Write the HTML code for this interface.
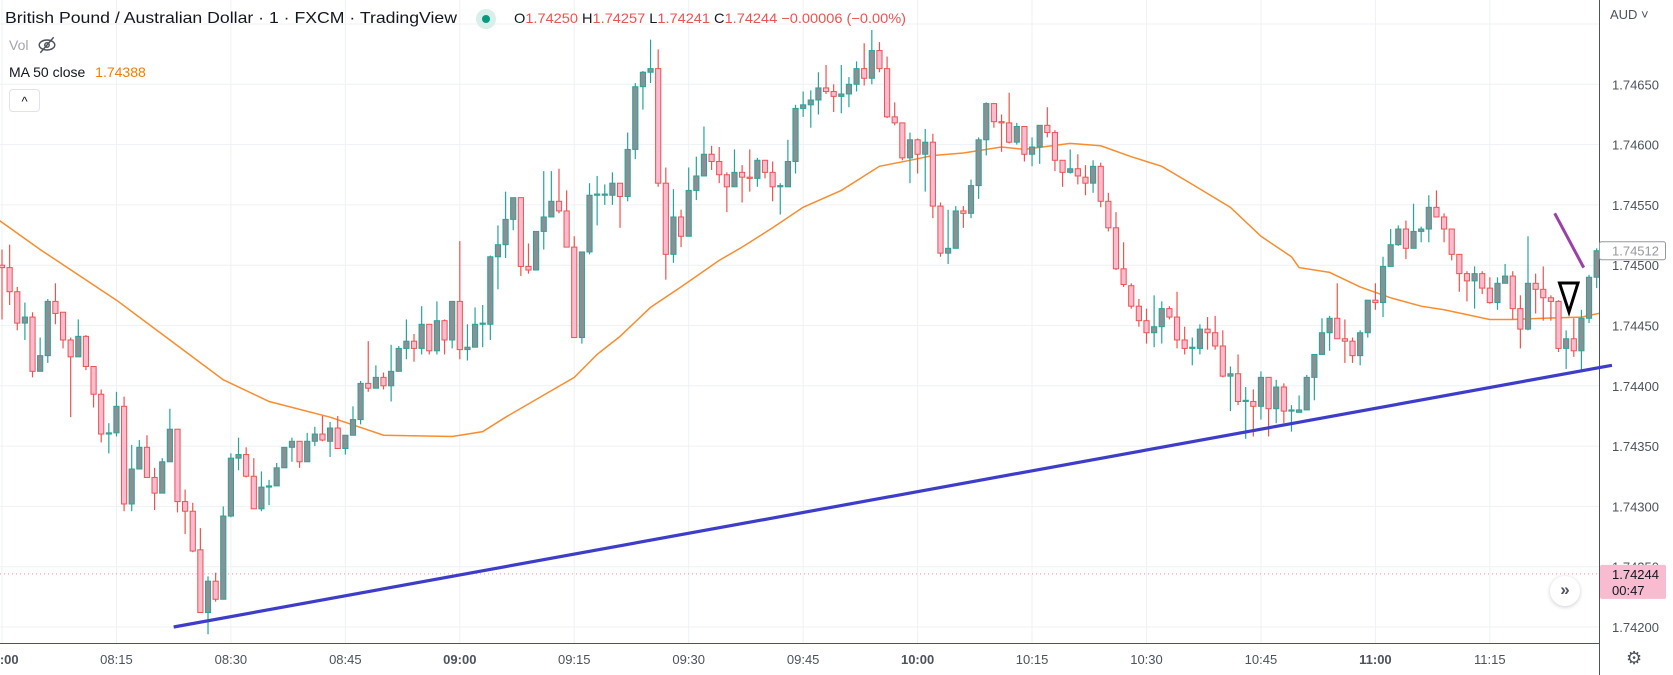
<!DOCTYPE html>
<html><head><meta charset="utf-8">
<style>
html,body{margin:0;padding:0;background:#fff;}
body{width:1673px;height:675px;overflow:hidden;position:relative;font-family:"Liberation Sans",sans-serif;}
svg{position:absolute;left:0;top:0;}
</style></head>
<body>
<svg id="chart" width="1673" height="675" viewBox="0 0 1673 675" xmlns="http://www.w3.org/2000/svg">
  <defs>
    <clipPath id="plotClip"><rect x="0" y="0" width="1599" height="643"/></clipPath>
  </defs>
  <g id="grid"></g>
  <g id="plot" clip-path="url(#plotClip)"></g>
  <g id="axes"></g>
  <g id="overlay"></g>
</svg>
<script>
// ---- data ----
const timeLabels = ["08:00","08:15","08:30","08:45","09:00","09:15","09:30","09:45","10:00","10:15","10:30","10:45","11:00","11:15"];
const priceTicks = [1.742,1.7425,1.743,1.7435,1.744,1.7445,1.745,1.7455,1.746,1.7465,1.747];
const opens = [1.74500,1.74498,1.74478,1.74452,1.74457,1.74412,1.74425,1.74470,1.74461,1.74438,
1.74424,1.74441,1.74416,1.74393,1.74360,1.74361,1.74383,1.74302,1.74331,1.74349,
1.74324,1.74311,1.74337,1.74364,1.74304,1.74296,1.74264,1.74212,1.74238,1.74223,
1.74292,1.74340,1.74343,1.74325,1.74298,1.74316,1.74317,1.74332,1.74349,1.74354,
1.74337,1.74354,1.74360,1.74354,1.74365,1.74348,1.74359,1.74372,1.74402,1.74398,
1.74407,1.74400,1.74412,1.74431,1.74437,1.74431,1.74451,1.74429,1.74454,1.74438,
1.74470,1.74430,1.74432,1.74451,1.74451,1.74507,1.74517,1.74538,1.74556,1.74499,
1.74496,1.74528,1.74540,1.74553,1.74545,1.74515,1.74440,1.74511,1.74558,1.74558,
1.74558,1.74568,1.74557,1.74596,1.74648,1.74660,1.74663,1.74568,1.74509,1.74540,
1.74524,1.74562,1.74574,1.74592,1.74586,1.74575,1.74565,1.74577,1.74573,1.74572,
1.74587,1.74577,1.74565,1.74565,1.74586,1.74630,1.74633,1.74637,1.74647,1.74644,
1.74640,1.74642,1.74650,1.74663,1.74655,1.74678,1.74663,1.74623,1.74618,1.74589,
1.74604,1.74592,1.74602,1.74549,1.74510,1.74514,1.74545,1.74543,1.74566,1.74604,
1.74634,1.74619,1.74618,1.74602,1.74615,1.74592,1.74598,1.74616,1.74610,1.74587,
1.74577,1.74580,1.74573,1.74568,1.74582,1.74553,1.74531,1.74497,1.74483,1.74466,
1.74454,1.74444,1.74449,1.74464,1.74457,1.74438,1.74431,1.74431,1.74447,1.74444,
1.74433,1.74408,1.74410,1.74387,1.74387,1.74383,1.74407,1.74381,1.74399,1.74379,
1.74378,1.74380,1.74407,1.74426,1.74444,1.74456,1.74439,1.74437,1.74425,1.74444,
1.74471,1.74469,1.74499,1.74517,1.74530,1.74514,1.74528,1.74530,1.74548,1.74540,
1.74530,1.74509,1.74493,1.74487,1.74493,1.74481,1.74469,1.74485,1.74491,1.74464,
1.74447,1.74485,1.74480,1.74473,1.74470,1.74431,1.74439,1.74429,1.74456,1.74490];
const highs = [1.74513,1.74517,1.74482,1.74469,1.74461,1.74440,1.74472,1.74485,1.74461,1.74440,
1.74455,1.74442,1.74416,1.74397,1.74369,1.74395,1.74391,1.74351,1.74355,1.74359,
1.74332,1.74340,1.74381,1.74364,1.74314,1.74303,1.74282,1.74242,1.74245,1.74300,
1.74344,1.74357,1.74349,1.74340,1.74329,1.74322,1.74336,1.74349,1.74357,1.74354,
1.74361,1.74366,1.74375,1.74370,1.74375,1.74359,1.74383,1.74404,1.74437,1.74417,
1.74411,1.74434,1.74433,1.74455,1.74443,1.74466,1.74451,1.74470,1.74455,1.74470,
1.74520,1.74451,1.74465,1.74467,1.74508,1.74533,1.74561,1.74556,1.74556,1.74518,
1.74528,1.74578,1.74578,1.74580,1.74562,1.74524,1.74511,1.74568,1.74574,1.74567,
1.74577,1.74568,1.74610,1.74651,1.74661,1.74687,1.74679,1.74581,1.74563,1.74546,
1.74581,1.74590,1.74615,1.74599,1.74598,1.74577,1.74596,1.74583,1.74596,1.74589,
1.74587,1.74586,1.74568,1.74604,1.74633,1.74644,1.74645,1.74660,1.74666,1.74650,
1.74666,1.74656,1.74669,1.74684,1.74695,1.74685,1.74673,1.74635,1.74618,1.74610,
1.74605,1.74613,1.74609,1.74552,1.74546,1.74549,1.74549,1.74571,1.74606,1.74635,
1.74634,1.74625,1.74643,1.74618,1.74615,1.74606,1.74616,1.74631,1.74612,1.74587,
1.74596,1.74592,1.74583,1.74587,1.74585,1.74560,1.74544,1.74519,1.74485,1.74472,
1.74464,1.74475,1.74470,1.74466,1.74478,1.74449,1.74440,1.74451,1.74457,1.74458,
1.74446,1.74416,1.74426,1.74399,1.74397,1.74412,1.74407,1.74405,1.74402,1.74384,
1.74392,1.74409,1.74426,1.74456,1.74458,1.74485,1.74455,1.74440,1.74446,1.74471,
1.74485,1.74507,1.74530,1.74533,1.74537,1.74551,1.74532,1.74558,1.74562,1.74543,
1.74530,1.74509,1.74495,1.74499,1.74495,1.74490,1.74490,1.74501,1.74495,1.74475,
1.74524,1.74493,1.74499,1.74475,1.74471,1.74446,1.74456,1.74463,1.74492,1.74514];
const lows = [1.74455,1.74467,1.74446,1.74438,1.74407,1.74412,1.74419,1.74451,1.74431,1.74374,
1.74424,1.74413,1.74382,1.74353,1.74344,1.74358,1.74296,1.74296,1.74331,1.74324,
1.74297,1.74311,1.74337,1.74295,1.74277,1.74262,1.74212,1.74194,1.74221,1.74223,
1.74291,1.74330,1.74324,1.74298,1.74296,1.74301,1.74317,1.74332,1.74337,1.74332,
1.74337,1.74350,1.74354,1.74341,1.74348,1.74343,1.74359,1.74368,1.74395,1.74398,
1.74397,1.74387,1.74412,1.74422,1.74420,1.74426,1.74426,1.74426,1.74426,1.74431,
1.74422,1.74421,1.74432,1.74432,1.74438,1.74480,1.74506,1.74529,1.74491,1.74493,
1.74496,1.74513,1.74540,1.74543,1.74515,1.74440,1.74435,1.74509,1.74533,1.74550,
1.74550,1.74531,1.74553,1.74588,1.74629,1.74651,1.74565,1.74488,1.74502,1.74515,
1.74524,1.74554,1.74574,1.74579,1.74568,1.74544,1.74565,1.74552,1.74561,1.74565,
1.74572,1.74553,1.74542,1.74565,1.74576,1.74623,1.74614,1.74625,1.74642,1.74627,
1.74626,1.74631,1.74644,1.74649,1.74650,1.74660,1.74622,1.74616,1.74587,1.74568,
1.74576,1.74561,1.74539,1.74507,1.74501,1.74514,1.74531,1.74539,1.74555,1.74591,
1.74614,1.74594,1.74601,1.74600,1.74586,1.74582,1.74584,1.74606,1.74578,1.74565,
1.74576,1.74567,1.74558,1.74560,1.74548,1.74528,1.74496,1.74482,1.74464,1.74449,
1.74435,1.74432,1.74435,1.74455,1.74431,1.74426,1.74417,1.74426,1.74430,1.74430,
1.74407,1.74379,1.74384,1.74356,1.74358,1.74372,1.74358,1.74369,1.74369,1.74362,
1.74378,1.74380,1.74388,1.74426,1.74429,1.74439,1.74419,1.74419,1.74417,1.74440,
1.74463,1.74457,1.74499,1.74516,1.74505,1.74514,1.74519,1.74519,1.74540,1.74519,
1.74504,1.74478,1.74470,1.74464,1.74476,1.74468,1.74463,1.74485,1.74455,1.74431,
1.74446,1.74460,1.74454,1.74454,1.74428,1.74414,1.74424,1.74411,1.74452,1.74481];
const closes = [1.74498,1.74478,1.74452,1.74457,1.74412,1.74425,1.74470,1.74460,1.74438,1.74424,
1.74441,1.74416,1.74393,1.74360,1.74361,1.74383,1.74302,1.74331,1.74349,1.74324,
1.74311,1.74337,1.74364,1.74304,1.74296,1.74263,1.74212,1.74238,1.74223,1.74292,
1.74340,1.74343,1.74325,1.74298,1.74316,1.74317,1.74332,1.74349,1.74354,1.74337,
1.74354,1.74360,1.74355,1.74365,1.74348,1.74359,1.74372,1.74402,1.74398,1.74407,
1.74400,1.74412,1.74431,1.74437,1.74431,1.74451,1.74429,1.74454,1.74438,1.74470,
1.74430,1.74432,1.74451,1.74452,1.74507,1.74517,1.74538,1.74556,1.74499,1.74496,
1.74528,1.74540,1.74553,1.74545,1.74515,1.74440,1.74511,1.74558,1.74559,1.74559,
1.74568,1.74557,1.74596,1.74648,1.74660,1.74663,1.74568,1.74509,1.74540,1.74524,
1.74562,1.74574,1.74592,1.74586,1.74575,1.74565,1.74577,1.74573,1.74572,1.74587,
1.74577,1.74565,1.74566,1.74586,1.74630,1.74633,1.74637,1.74647,1.74644,1.74640,
1.74642,1.74650,1.74663,1.74655,1.74678,1.74663,1.74623,1.74618,1.74589,1.74604,
1.74592,1.74602,1.74549,1.74510,1.74514,1.74545,1.74543,1.74566,1.74604,1.74634,
1.74619,1.74618,1.74602,1.74615,1.74592,1.74598,1.74616,1.74610,1.74587,1.74577,
1.74580,1.74574,1.74568,1.74582,1.74553,1.74531,1.74497,1.74484,1.74466,1.74454,
1.74444,1.74449,1.74464,1.74457,1.74438,1.74431,1.74432,1.74447,1.74444,1.74433,
1.74408,1.74410,1.74387,1.74388,1.74383,1.74407,1.74381,1.74399,1.74379,1.74380,
1.74380,1.74407,1.74426,1.74444,1.74456,1.74439,1.74437,1.74425,1.74444,1.74471,
1.74469,1.74499,1.74517,1.74530,1.74514,1.74528,1.74530,1.74548,1.74540,1.74530,
1.74509,1.74493,1.74487,1.74493,1.74481,1.74469,1.74485,1.74491,1.74464,1.74447,
1.74485,1.74480,1.74473,1.74470,1.74431,1.74439,1.74429,1.74456,1.74490,1.74512];
const maMinutes = [-1,5,15,22,29,35,43,50,59,63,66,72,75,78,81,85,89,94,97,101,105,110,115,119,122,126,131,134,140,144,148,152,156,161,165,169,170,174,178,182,186,189,195,198,202,207,210];
const maValues = [1.74540,1.74513,1.74471,1.74438,1.74405,1.74387,1.74374,1.74359,1.74358,1.74362,1.74374,1.74396,1.74407,1.74426,1.74441,1.74465,1.74482,1.74504,1.74515,1.74531,1.74548,1.74562,1.74582,1.74587,1.74591,1.74593,1.74598,1.74596,1.74601,1.74599,1.74590,1.74582,1.74567,1.74548,1.74524,1.74507,1.74498,1.74494,1.74482,1.74473,1.74466,1.74463,1.74455,1.74455,1.74456,1.74457,1.74461];
const trendMinutes = [22.5, 211];
const trendPrices = [1.74200, 1.74417];
const purpleMinutes = [203.5, 207.3];
const purplePrices = [1.74543, 1.74498];
const lastPrice = 1.74244;
const markPrice = 1.74512;

// ---- axis functions ----
const X0 = 2, PX_PER_MIN = 7.63;
function xOf(m){ return X0 + m*PX_PER_MIN; }
function yOf(p){ return 627 - (p-1.742)/0.0005*60.3; }

const NS = "http://www.w3.org/2000/svg";
function mk(tag, attrs, parent){
  const e = document.createElementNS(NS, tag);
  for (const k in attrs) e.setAttribute(k, attrs[k]);
  parent.appendChild(e); return e;
}
const grid = document.getElementById('grid');
const plot = document.getElementById('plot');
const axes = document.getElementById('axes');
const overlay = document.getElementById('overlay');

priceTicks.forEach(p=>{
  const l = mk('line',{x1:0,x2:1599,y1:yOf(p),y2:yOf(p),stroke:'#eef1f5','stroke-width':1},grid);
  
  
});
timeLabels.forEach((t,i)=>{
  const x = xOf(i*15);
  const l = mk('line',{x1:x,x2:x,y1:0,y2:643,stroke:'#eef1f5','stroke-width':1},grid);
  
  
});

const lp = mk('line',{x1:0,x2:1599,y1:yOf(lastPrice),y2:yOf(lastPrice),stroke:'#f48fb1','stroke-width':1,'stroke-dasharray':'1 3'},plot);



const tl = mk('line',{x1:xOf(trendMinutes[0]),y1:yOf(trendPrices[0]),x2:xOf(trendMinutes[1]),y2:yOf(trendPrices[1]),stroke:'#3d3dc9','stroke-width':3.2},overlay);



let d='';
maMinutes.forEach((m,i)=>{ d += (i?'L':'M') + xOf(m).toFixed(1)+','+yOf(maValues[i]).toFixed(1); });
const ma = mk('path',{d:d,fill:'none',stroke:'#fb8c2e','stroke-width':1.5},plot);



for (let i=0;i<opens.length;i++){
  const o=opens[i],h=highs[i],l=lows[i],c=closes[i];
  const bull = c>=o;
  const x = xOf(i);
  const g = mk('g',{},plot);
  
  
  mk('line',{x1:x,x2:x,y1:yOf(h),y2:yOf(l),stroke:bull?'#26a69a':'#ef5350','stroke-width':1.2},g);
  const top = yOf(Math.max(o,c)), bot = yOf(Math.min(o,c));
  mk('rect',{x:x-2.6,y:top,width:5.2,height:Math.max(1,bot-top),fill:bull?'#8c8f93':'#f8bbd0',stroke:bull?'#26a69a':'#ef5350','stroke-width':1},g);
}

const pl = mk('line',{x1:xOf(purpleMinutes[0]),y1:yOf(purplePrices[0]),x2:xOf(purpleMinutes[1]),y2:yOf(purplePrices[1]),stroke:'#9c3fa8','stroke-width':3},overlay);


const tri = mk('polygon',{points:'1559.5,283 1578,283 1569,312',fill:'none',stroke:'#000','stroke-width':3},overlay);



mk('line',{x1:1599.5,x2:1599.5,y1:0,y2:675,stroke:'#50535e','stroke-width':1},axes);
mk('line',{x1:0,x2:1599,y1:643.5,y2:643.5,stroke:'#50535e','stroke-width':1},axes);
priceTicks.forEach(p=>{
  const t = mk('text',{x:1612,y:yOf(p)+5,'font-size':13,fill:'#4c525e','font-family':'Liberation Sans, sans-serif'},axes);
  t.textContent = p.toFixed(5);
  
  
});
timeLabels.forEach((s,i)=>{
  const t = mk('text',{x:xOf(i*15),y:664,'font-size':13,fill:'#4c525e','text-anchor':'middle','font-weight':s.endsWith(':00')?'bold':'normal','font-family':'Liberation Sans, sans-serif'},axes);
  t.textContent = s;
  
  
});

const audBg = mk('rect',{x:1601,y:0,width:72,height:30,fill:'#fff'},axes);


const aud = mk('text',{x:1610,y:19,'font-size':13,fill:'#4c525e','font-family':'Liberation Sans, sans-serif'},axes);
aud.textContent='AUD \u02C5';



const mb = mk('rect',{x:1599.5,y:yOf(markPrice)-9,width:66,height:18,fill:'#fff',stroke:'#9598a1','stroke-width':1,rx:2},axes);


const mt = mk('text',{x:1612,y:yOf(markPrice)+5,'font-size':13,fill:'#9598a1','font-family':'Liberation Sans, sans-serif'},axes);
mt.textContent = markPrice.toFixed(5);



const yl = yOf(lastPrice);
const lb = mk('rect',{x:1600,y:yl-9,width:66,height:34,fill:'#f8bbd0',rx:2},axes);


const lt = mk('text',{x:1612,y:yl+5,'font-size':13,fill:'#131722','font-family':'Liberation Sans, sans-serif'},axes);
lt.textContent = lastPrice.toFixed(5);


const ct = mk('text',{x:1612,y:yl+21,'font-size':13,fill:'#131722','font-family':'Liberation Sans, sans-serif'},axes);
ct.textContent = '00:47';


</script>

<svg width="1000" height="30" style="left:0;top:0">
  <text x="5" y="23" font-size="16" fill="#131722" font-family="Liberation Sans, sans-serif" textLength="452" lengthAdjust="spacingAndGlyphs">British Pound / Australian Dollar · 1 · FXCM · TradingView</text>
  <text x="514" y="23" font-size="14" fill="#131722" font-family="Liberation Sans, sans-serif" textLength="392" lengthAdjust="spacingAndGlyphs">O<tspan fill="#ef5350">1.74250</tspan> H<tspan fill="#ef5350">1.74257</tspan> L<tspan fill="#ef5350">1.74241</tspan> C<tspan fill="#ef5350">1.74244</tspan> <tspan fill="#ef5350">−0.00006 (−0.00%)</tspan></text>
</svg>
<div style="position:absolute;left:476px;top:9px;width:20px;height:20px;border-radius:50%;background:#d9efe9;"><div style="position:absolute;left:6px;top:6px;width:8px;height:8px;border-radius:50%;background:#089981;"></div></div>
<div style="position:absolute;left:9px;top:37px;font-size:14px;color:#a3a6af;">Vol</div>
<svg style="left:37px;top:35px" width="20" height="20" viewBox="0 0 18 18"><ellipse cx="9" cy="9" rx="7" ry="4.5" fill="none" stroke="#50535e" stroke-width="1.3"/><circle cx="9" cy="9" r="2" fill="none" stroke="#50535e" stroke-width="1.3"/><line x1="3" y1="16" x2="15" y2="2" stroke="#50535e" stroke-width="1.3"/></svg>
<div style="position:absolute;left:9px;top:64px;font-size:14px;color:#131722;white-space:nowrap;">MA 50 close <span style="color:#f57c00;margin-left:6px">1.74388</span></div>
<div style="position:absolute;left:9px;top:89px;width:29px;height:21px;border:1px solid #e0e3eb;border-radius:4px;background:#fff;font-size:13px;text-align:center;line-height:24px;color:#131722;">^</div>
<div style="position:absolute;left:1550px;top:576px;width:30px;height:30px;border-radius:50%;background:#fff;box-shadow:0 1px 4px rgba(0,0,0,0.2);font-size:17px;text-align:center;line-height:28px;color:#50535e;font-weight:bold;">»</div>
<div style="position:absolute;left:1626px;top:649px;font-size:18px;color:#50535e;line-height:18px;">⚙</div>
</body></html>
